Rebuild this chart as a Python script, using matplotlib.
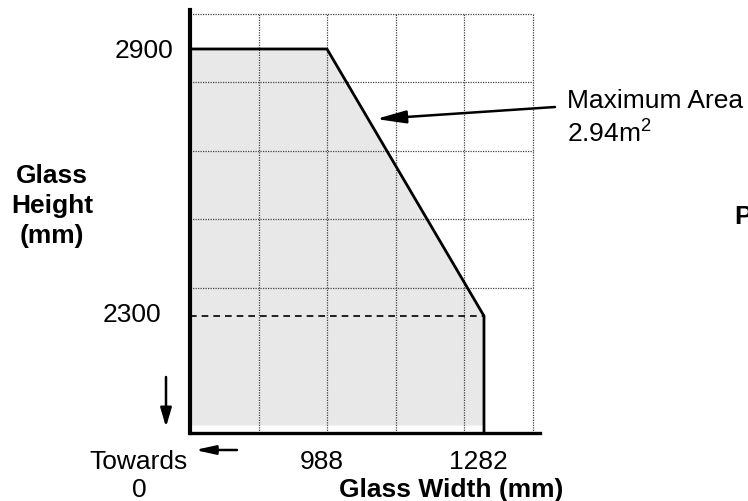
import numpy as np
import matplotlib
matplotlib.use('Agg')
import matplotlib.pyplot as plt
from matplotlib.patches import FancyArrowPatch

plt.rcParams['font.family'] = ['Liberation Sans', 'DejaVu Sans']
plt.rcParams['mathtext.fontset'] = 'custom'
plt.rcParams['mathtext.rm'] = 'Liberation Sans'

# envelope of allowed glass sizes (mm)
widths = [731.5, 988, 1282, 1282]
heights = [2900, 2900, 2300, 2037]
x_ticks = [988, 1282]
x_tick_labels = ['988', '1282']
y_ticks = [2900, 2300]
y_tick_labels = ['2900', '2300']

W, H = 748, 501
fig = plt.figure(figsize=(W / 100, H / 100), dpi=100)

# axes box in image pixels: left 190, right 540, top 10, bottom 433
ax = fig.add_axes([190 / W, (H - 433) / H, 350 / W, 423 / H])
ax.set_xlim(731.5, 1386.9)
ax.set_ylim(2037, 2987.6)

# grey area under the envelope
ax.fill_between(widths[:3], heights[:3], 2055, color='#e8e8e8', lw=0, zorder=1)

# dotted grid (schematic, not on data ticks)
gx = 731.5 + 128.3 * np.arange(1, 6)
gy = 2363 + 153.9 * np.arange(0, 5)
ax.vlines(gx, 2037, gy[-1], colors='#444444', lw=0.9, linestyles=(0, (1, 1)), zorder=2)
ax.hlines(gy, 731.5, gx[-1], colors='#444444', lw=0.9, linestyles=(0, (1, 1)), zorder=2)

# envelope outline
ax.plot(widths, heights, color='black', lw=2.0, zorder=4, solid_joinstyle='miter')
ax.plot([widths[0], 1282], [2300, 2300], color='black', lw=1.2, dashes=(4, 3), zorder=3)

for s in ['top', 'right']:
    ax.spines[s].set_visible(False)
ax.spines['left'].set_linewidth(3.0)
ax.spines['bottom'].set_linewidth(2.4)
ax.set_xticks([])
ax.set_yticks([])

fs = 19
def px(x, y):
    return x / W, 1 - y / H

for v, lab in zip(x_ticks, x_tick_labels):
    xf = ax.transData.transform((v, 0))[0] / W
    ax.text(xf - 0.007, 1 - 462 / H, lab, transform=fig.transFigure, ha='center',
            va='center', fontsize=fs)
fig.text(*px(173, 51), y_tick_labels[0], ha='right', va='center', fontsize=fs)
fig.text(*px(161, 315), y_tick_labels[1], ha='right', va='center', fontsize=fs)

fig.text(*px(52, 206), 'Glass\nHeight\n(mm)', ha='center', va='center',
         fontsize=fs, fontweight='bold', linespacing=1.3)
fig.text(*px(451, 490), 'Glass Width (mm)', ha='center', va='center',
         fontsize=fs, fontweight='bold')
fig.text(*px(138, 462), 'Towards', ha='center', va='center', fontsize=fs)
fig.text(*px(139, 490), '0', ha='center', va='center', fontsize=fs)
fig.text(*px(567, 101), 'Maximum Area', ha='left', va='center', fontsize=fs)
fig.text(*px(567, 133), '2.94m$^2$', ha='left', va='center', fontsize=fs)
fig.text(*px(734, 217), 'P', ha='left', va='center', fontsize=fs, fontweight='bold')

def arrow(p0, p1, hl, hw):
    a = FancyArrowPatch(px(*p0), px(*p1), transform=fig.transFigure,
                        arrowstyle='-|>,head_length=%g,head_width=%g' % (hl, hw),
                        mutation_scale=12, color='black', lw=1.8,
                        shrinkA=0, shrinkB=0)
    fig.patches.append(a)

arrow((555, 107), (376, 119), 1.5, 0.32)
arrow((166, 377), (166, 427), 0.95, 0.28)
arrow((237, 450), (195, 450), 1.0, 0.22)

fig.savefig('out.png', dpi=100)
